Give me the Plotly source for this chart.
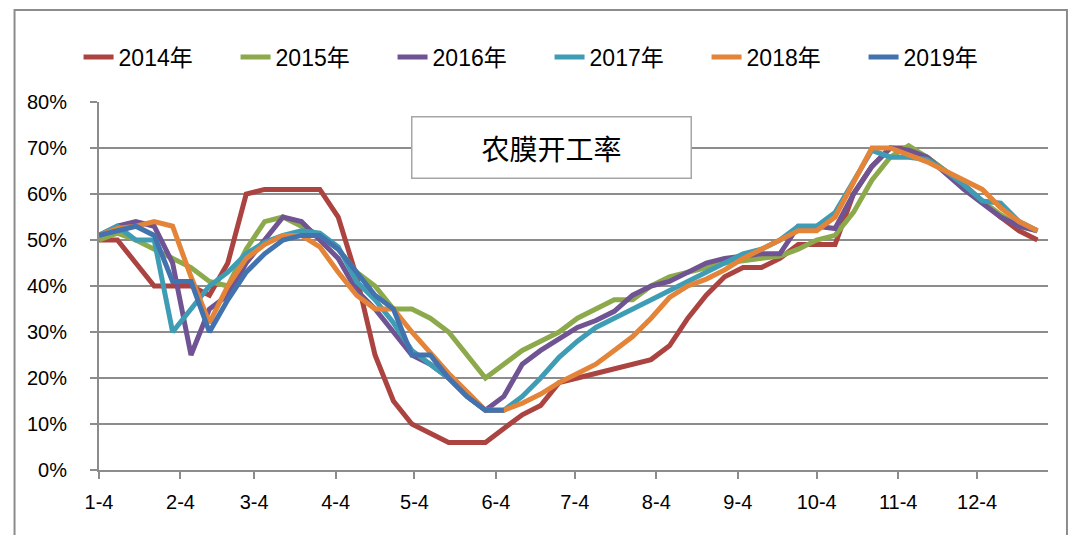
import plotly.graph_objects as go
import pandas as pd

# weekly observations, plotted on one calendar year (month-day)
weeks = pd.date_range("2019-01-04", periods=52, freq="7D")

y2014 = [50, 50, 45, 40, 40, 40, 38, 45, 60, 61, 61, 61, 61, 55, 42, 25, 15, 10, 8, 6, 6, 6, 9, 12, 14, 19,
         20, 21, 22, 23, 24, 27, 33, 38, 42, 44, 44, 46, 49, 49, 49, 60, 66, 70, 70, 68, 65, 62, 58.5, 55, 52, 50]
y2015 = [50, 51.5, 50, 48, 46, 44, 41, 40, 48, 54, 55, 53, 51, 48, 43, 40, 35, 35, 33, 30, 25, 20, 23, 26, 28, 30,
         33, 35, 37, 37, 40, 42, 43, 44, 45, 45.5, 46, 46.5, 48, 50, 51, 56, 63, 68, 70.5, 68, 65, 61.5, 58.5, 55.5, 53, 52]
y2016 = [51, 53, 54, 53, 45, 25, 35, 38, 45, 50, 55, 54, 50, 46, 39, 35, 30, 25, 23, 20, 16, 13, 16, 23, 26, 28.5,
         31, 32.5, 34.5, 38, 40, 41, 43, 45, 46, 46.5, 47, 47, 53, 53, 52.5, 60, 66, 70, 69.5, 68, 64.5, 61, 58, 55, 53, 52]
y2017 = [51, 53, 50, 50, 30, 35, 40, 43, 47, 49.5, 51, 52, 51.5, 48.5, 41, 37, 32, 26, 23, 20, 16, 13, 13, 16, 20, 24.5,
         28, 31, 33, 35, 37, 39, 41, 43, 45, 47, 48, 50, 53, 53, 56, 63, 69.5, 68, 68, 67.5, 65, 62, 58.5, 58, 54, 52]
y2018 = [51, 52.5, 53, 54, 53, 42, 32, 40, 46, 49, 51, 51, 48.5, 43, 38, 35, 35, 30, 25.5, 21, 17, 13, 13, 14.5, 16.5, 19,
         21, 23, 26, 29, 33, 37.5, 40, 41.5, 43.5, 46, 48, 50, 52, 52, 55, 62.5, 70, 70, 68.5, 67, 65, 63, 61, 57, 54, 52]
y2019 = [51, 52, 53, 51, 41, 41, 30, 37, 43, 47, 50, 51, 51, 48, 43, 38, 35, 25, 25, 20, 16, 13, 13]

names = ["2014年", "2015年", "2016年", "2017年", "2018年", "2019年"]
colors = ["#AB4340", "#8CAA4C", "#6F5392", "#3E9DB4", "#E38438", "#4373AE"]
tick_labels = ["1-4", "2-4", "3-4", "4-4", "5-4", "6-4", "7-4", "8-4", "9-4", "10-4", "11-4", "12-4"]
tick_dates = [f"2019-{i + 1:02d}-04" for i in range(12)]

fig = go.Figure()
for name, ys, c in zip(names, [y2014, y2015, y2016, y2017, y2018, y2019], colors):
    fig.add_trace(go.Scatter(x=weeks[:len(ys)], y=ys, name=name, mode="lines",
                             line=dict(color=c, width=5)))

grid = "#8C8C8C"
fig.update_xaxes(type="date", range=["2019-01-04", "2019-12-31"], tickvals=tick_dates, ticktext=tick_labels,
                 showgrid=False, showline=True, linecolor=grid, linewidth=2,
                 ticks="outside", ticklen=7, tickwidth=2, tickcolor=grid, ticklabelstandoff=6,
                 tickfont=dict(size=20, color="black"))
fig.update_yaxes(range=[0, 80], dtick=10, ticksuffix="%", showgrid=True, gridcolor=grid, gridwidth=2,
                 zeroline=False, showline=True, linecolor=grid, linewidth=2,
                 ticks="outside", ticklen=7, tickwidth=2, tickcolor=grid, ticklabelstandoff=19,
                 tickfont=dict(size=20, color="black"))

# title box
fig.add_annotation(x=0.4773, y=0.8777, xref="paper", yref="paper", xanchor="center", yanchor="middle",
                   text="农膜开工率", showarrow=False,
                   font=dict(family="Noto Sans CJK SC", size=28, color="black"),
                   width=276, height=58, bgcolor="white", bordercolor="#A6A6A6", borderwidth=1.5)

# chart frame
fig.add_shape(type="rect", xref="paper", yref="paper", x0=-0.089, x1=1.02, y0=-0.3, y1=1.25,
              line=dict(color="#8C8C8C", width=2), layer="below")

# page body adds 8px offset, so the figure is sized/margined to compensate
fig.update_layout(
    width=1069, height=527,
    margin=dict(l=91, r=29, t=94, b=65, autoexpand=False),
    plot_bgcolor="white", paper_bgcolor="white",
    font=dict(family="Liberation Sans, Noto Sans CJK SC", color="black"),
    legend=dict(orientation="h", xref="container", yref="container", x=0.066, y=0.907,
                xanchor="left", yanchor="middle", entrywidth=112, entrywidthmode="pixels",
                font=dict(size=23), bgcolor="rgba(0,0,0,0)"),
    showlegend=True,
)
fig.write_html("out.html")
